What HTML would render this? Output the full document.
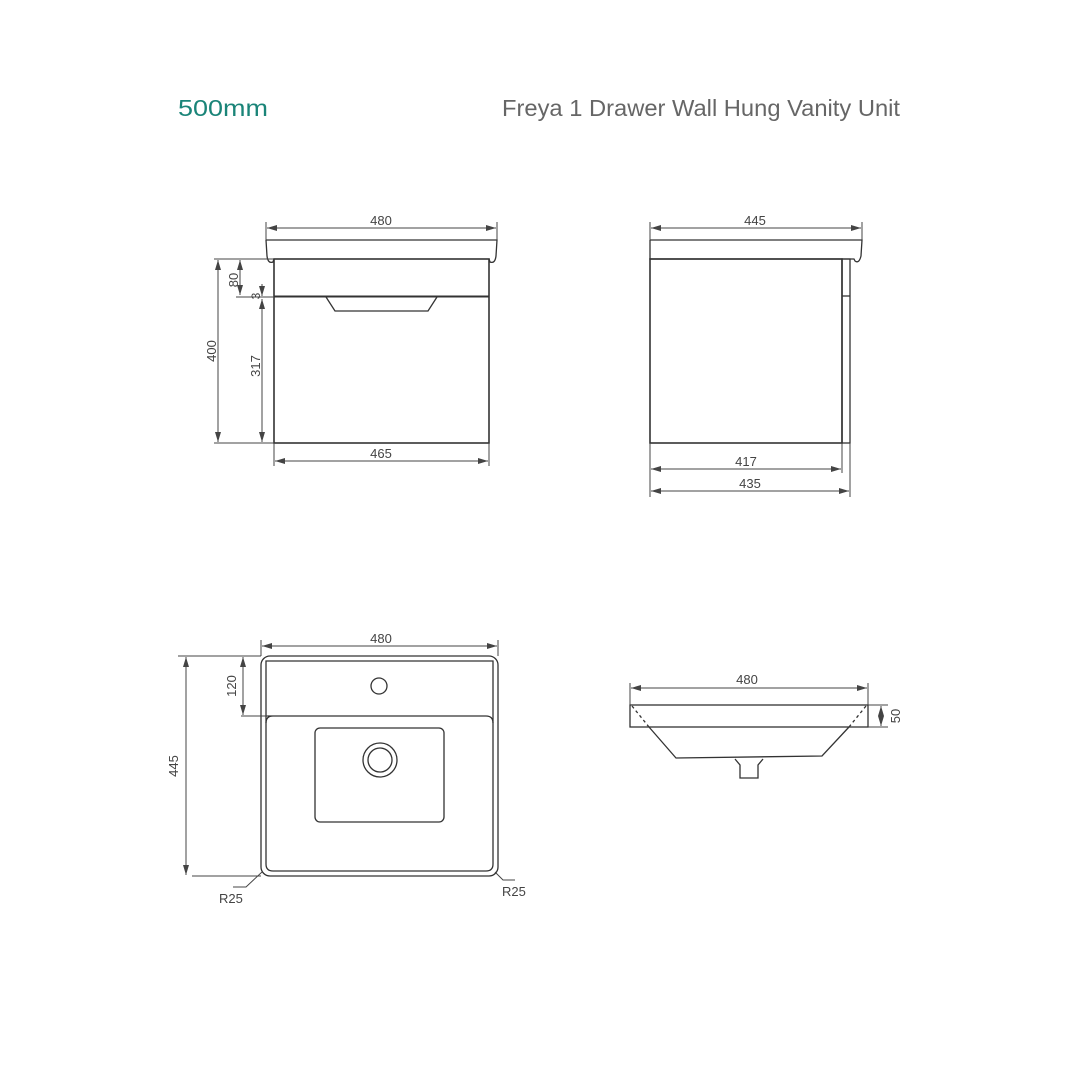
<!DOCTYPE html>
<html><head><meta charset="utf-8"><style>
html,body{margin:0;padding:0;background:#fff;width:1080px;height:1080px;overflow:hidden}
svg{display:block}
text{font-family:"Liberation Sans",sans-serif;fill:#444}
</style></head><body>
<svg width="1080" height="1080" viewBox="0 0 1080 1080" xmlns="http://www.w3.org/2000/svg">
<defs>
<marker id="a" viewBox="0 0 10 6" refX="10" refY="3" markerWidth="10" markerHeight="6" orient="auto-start-reverse" markerUnits="userSpaceOnUse"><path d="M0,0 L10,3 L0,6 z" fill="#444"/></marker>
</defs>
<text x="178" y="116" font-size="23" style="fill:#1a8478" textLength="90" lengthAdjust="spacingAndGlyphs">500mm</text>
<text x="502" y="116" font-size="23" style="fill:#666" textLength="398" lengthAdjust="spacingAndGlyphs">Freya 1 Drawer Wall Hung Vanity Unit</text>

<g fill="none" stroke="#333" stroke-width="1.3">
<path d="M266,240 L497,240 L496,256 Q495,264 490,262 L489,259 M266,240 L267,256 Q268,264 273,262 L274,259"/>
<rect x="274" y="259" width="215" height="184" stroke-width="1.6"/>
<line x1="274" y1="296.5" x2="489" y2="296.5" stroke-width="2"/>
<polyline points="326,297 335,311 428,311 437,297"/>
<path d="M650,240 L862,240 L861,256 Q859,264 855,261 L854,259 L650,259 L650,240"/>
<rect x="650" y="259" width="192" height="184" stroke-width="1.6"/>
<rect x="842" y="259" width="8" height="184"/>
<line x1="842" y1="296" x2="850" y2="296"/>
<rect x="261" y="656" width="237" height="220" rx="9"/>
<path d="M266,661 L493,661 L493,864 Q493,871 486,871 L273,871 Q266,871 266,864 Z"/>
<path d="M266,716 L486,716 Q493,716 493,723 M266,723 Q266,716 273,716"/>
<rect x="315" y="728" width="129" height="94" rx="5"/>
<circle cx="380" cy="760" r="17"/>
<circle cx="380" cy="760" r="12"/>
<circle cx="379" cy="686" r="8"/>
<rect x="630" y="705" width="238" height="22"/>
<polyline points="649,727 676,758 822,756 849,727"/>
<line x1="632" y1="706" x2="649" y2="727" stroke-dasharray="3,3"/>
<line x1="866" y1="706" x2="849" y2="727" stroke-dasharray="3,3"/>
<polyline points="735,759 740,765 740,778 758,778 758,765 763,759"/>
</g>

<g stroke="#444" stroke-width="1" fill="none">
<line x1="266" y1="222" x2="266" y2="240"/><line x1="497" y1="222" x2="497" y2="240"/>
<line x1="267" y1="228" x2="496" y2="228" marker-start="url(#a)" marker-end="url(#a)"/>
<line x1="214" y1="259" x2="274" y2="259"/><line x1="214" y1="443" x2="274" y2="443"/>
<line x1="218" y1="260" x2="218" y2="442" marker-start="url(#a)" marker-end="url(#a)"/>
<line x1="240" y1="260" x2="240" y2="295" marker-start="url(#a)" marker-end="url(#a)"/>
<line x1="236" y1="297" x2="274" y2="297"/>
<line x1="262" y1="284" x2="262" y2="296" marker-end="url(#a)"/>
<line x1="262" y1="299" x2="262" y2="442" marker-start="url(#a)" marker-end="url(#a)"/>
<line x1="274" y1="443" x2="274" y2="466"/><line x1="489" y1="443" x2="489" y2="466"/>
<line x1="275" y1="461" x2="488" y2="461" marker-start="url(#a)" marker-end="url(#a)"/>
<line x1="650" y1="222" x2="650" y2="240"/><line x1="862" y1="222" x2="862" y2="240"/>
<line x1="651" y1="228" x2="861" y2="228" marker-start="url(#a)" marker-end="url(#a)"/>
<line x1="650" y1="443" x2="650" y2="497"/><line x1="842" y1="443" x2="842" y2="473"/><line x1="850" y1="443" x2="850" y2="497"/>
<line x1="651" y1="469" x2="841" y2="469" marker-start="url(#a)" marker-end="url(#a)"/>
<line x1="651" y1="491" x2="849" y2="491" marker-start="url(#a)" marker-end="url(#a)"/>
<line x1="261" y1="640" x2="261" y2="656"/><line x1="498" y1="640" x2="498" y2="656"/>
<line x1="262" y1="646" x2="497" y2="646" marker-start="url(#a)" marker-end="url(#a)"/>
<line x1="178" y1="656" x2="261" y2="656"/><line x1="192" y1="876" x2="261" y2="876"/>
<line x1="186" y1="657" x2="186" y2="875" marker-start="url(#a)" marker-end="url(#a)"/>
<line x1="243" y1="657" x2="243" y2="715" marker-start="url(#a)" marker-end="url(#a)"/>
<line x1="241" y1="716" x2="268" y2="716"/>
<polyline points="233,887 246,887 262,872"/>
<polyline points="515,880 503,880 495,872"/>
<line x1="630" y1="683" x2="630" y2="705"/><line x1="868" y1="683" x2="868" y2="705"/>
<line x1="631" y1="688" x2="867" y2="688" marker-start="url(#a)" marker-end="url(#a)"/>
<line x1="868" y1="705" x2="888" y2="705"/><line x1="868" y1="727" x2="888" y2="727"/>
<line x1="881" y1="706" x2="881" y2="726" marker-start="url(#a)" marker-end="url(#a)"/>
</g>

<g font-size="13">
<text x="381" y="225" text-anchor="middle">480</text>
<text x="381" y="458" text-anchor="middle">465</text>
<text x="216" y="351" text-anchor="middle" transform="rotate(-90 216 351)">400</text>
<text x="238" y="280" text-anchor="middle" transform="rotate(-90 238 280)">80</text>
<text x="260" y="296" text-anchor="middle" transform="rotate(-90 260 296)" font-size="12">3</text>
<text x="260" y="366" text-anchor="middle" transform="rotate(-90 260 366)">317</text>
<text x="755" y="225" text-anchor="middle">445</text>
<text x="746" y="466" text-anchor="middle">417</text>
<text x="750" y="488" text-anchor="middle">435</text>
<text x="381" y="643" text-anchor="middle">480</text>
<text x="178" y="766" text-anchor="middle" transform="rotate(-90 178 766)">445</text>
<text x="236" y="686" text-anchor="middle" transform="rotate(-90 236 686)">120</text>
<text x="219" y="903">R25</text>
<text x="502" y="896">R25</text>
<text x="747" y="684" text-anchor="middle">480</text>
<text x="900" y="716" text-anchor="middle" transform="rotate(-90 900 716)">50</text>
</g>
</svg>
</body></html>
